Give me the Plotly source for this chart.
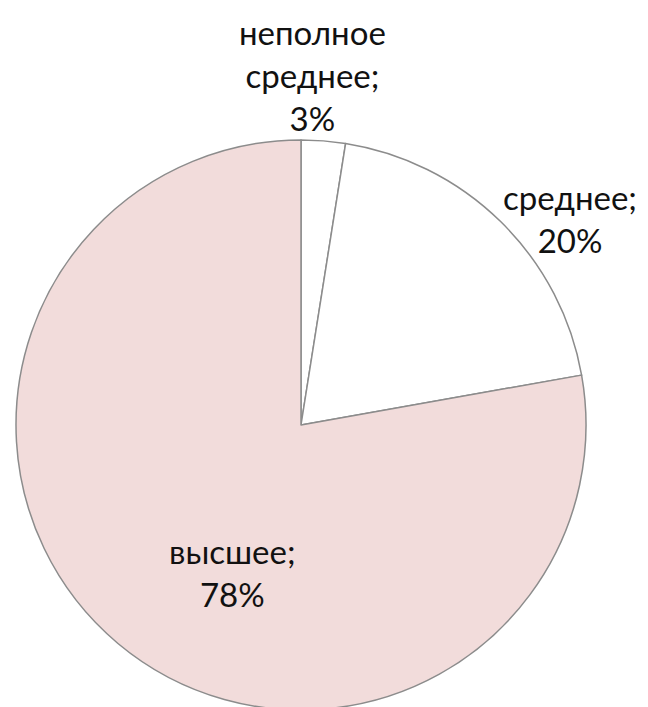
import plotly.graph_objects as go

categories = ["неполное среднее", "среднее", "высшее"]
values = [2.5, 19.7, 77.8]
pct_labels = ["3%", "20%", "78%"]
label_lines = [["неполное", "среднее;"], ["среднее;"], ["высшее;"]]
colors = ["#ffffff", "#ffffff", "#f2dcdb"]

W, H = 648, 720
OFF = 8  # page body margin offset
cx, cy, r = 301 - OFF, 425 - OFF, 285
fig = go.Figure(go.Pie(
    labels=categories,
    values=values,
    sort=False,
    direction="clockwise",
    rotation=0,
    marker=dict(colors=colors, line=dict(color="#8c8c8c", width=1.5)),
    textinfo="none",
    hoverinfo="label+percent",
    showlegend=False,
    domain=dict(x=[(cx - r) / W, (cx + r) / W], y=[(H - cy - r) / H, (H - cy + r) / H]),
))

# label anchor positions (px in the page, top-left origin)
label_pos = [(312, 75), (570, 218), (232, 572)]
font = dict(family="Lato, Noto Sans, sans-serif", size=33, color="#111111")
for lines, pct, (px, py) in zip(label_lines, pct_labels, label_pos):
    fig.add_annotation(
        x=(px - OFF) / W, y=1 - (py - OFF) / H, xref="paper", yref="paper",
        text="<br>".join(lines + [pct]), showarrow=False,
        font=font, align="center", xanchor="center", yanchor="middle",
    )

fig.update_layout(
    width=W, height=H,
    margin=dict(l=0, r=0, t=0, b=0),
    paper_bgcolor="white", plot_bgcolor="white",
)
fig.write_html("out.html")
